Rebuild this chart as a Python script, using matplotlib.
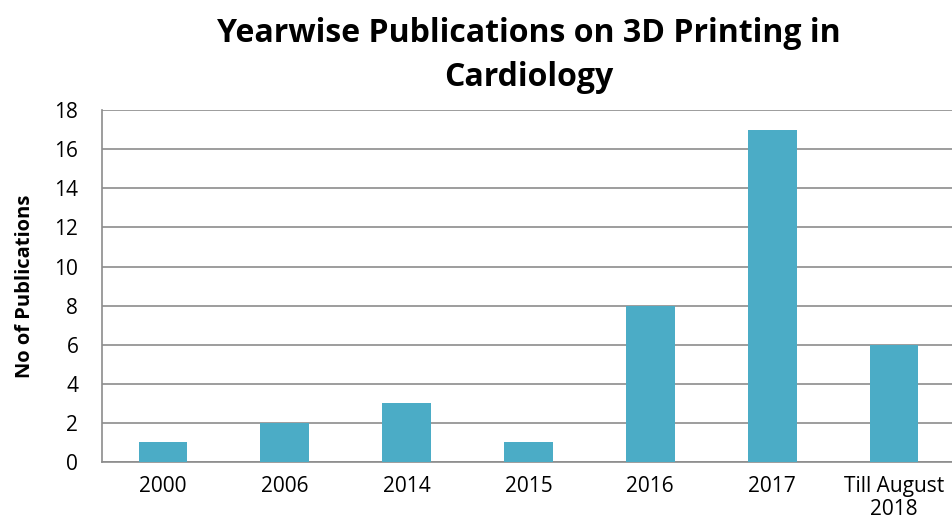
import matplotlib
matplotlib.use("Agg")
import matplotlib.pyplot as plt

categories = ["2000", "2006", "2014", "2015", "2016", "2017", "Till August\n2018"]
values = [1, 2, 3, 1, 8, 17, 6]
yticks = [0, 2, 4, 6, 8, 10, 12, 14, 16, 18]

plt.rcParams['font.family'] = ['Open Sans', 'DejaVu Sans']

fig = plt.figure(figsize=(9.53, 5.22), dpi=100)
ax = fig.add_axes([0.107, 0.115, 0.895, 0.674])

x = range(len(categories))
ax.bar(x, values, width=0.4, color="#4BACC6", zorder=3)
ax.set_xlim(-0.5, len(categories) - 0.5)
ax.set_ylim(0, 18)
ax.set_yticks(yticks)
ax.set_yticklabels([str(t) for t in yticks], fontsize=15)
ax.set_xticks(list(x))
ax.set_xticklabels(categories, fontsize=15, linespacing=1.15)
ax.tick_params(axis='x', length=0, pad=10)
ax.tick_params(axis='y', length=0, pad=17)
ax.yaxis.grid(True, color="#8c8c8c", linewidth=1.2, zorder=0)
for s in ["top", "right"]:
    ax.spines[s].set_visible(False)
for s in ["left", "bottom"]:
    ax.spines[s].set_color("#8c8c8c")
    ax.spines[s].set_linewidth(1.2)
ax.set_ylabel("No of Publications", fontsize=14.5, fontweight="bold", labelpad=14)

fig.text(0.555, 0.82, "Yearwise Publications on 3D Printing in\nCardiology",
         ha="center", va="bottom", fontsize=23, fontweight="bold", linespacing=1.45)

fig.savefig("out.png", dpi=100)
